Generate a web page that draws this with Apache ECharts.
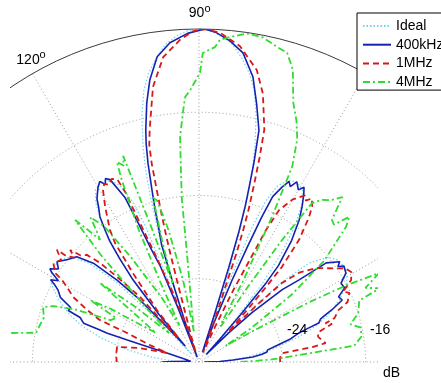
<!DOCTYPE html>
<html>
<head>
<meta charset="utf-8">
<script src="https://cdn.jsdelivr.net/npm/echarts@6/dist/echarts.min.js"></script>
<style>
html, body { margin: 0; padding: 0; background: #fff; }
#chart { width: 441px; height: 383px; }
</style>
</head>
<body>
<div id="chart"></div>
<script>
// Beam patterns, [angle in degrees, level in dB]
const seriesNames = ['Ideal', '400kHz', '1MHz', '4MHz'];

const ideal = [
  [0,-30.5],[2,-29.5],[6,-27.3],[10,-24.8],[14,-22.2],[17,-20.3],[20,-18.8],[24,-17.2],[28,-15.9],
  [32,-15.3],[36,-15.4],[39,-16],[42,-17.8],[44,-21],[45.5,-26],[47,-31],[49,-27],[51,-22.5],
  [53,-18.6],[55,-15.8],[57,-13.8],[59,-12.7],[61.5,-12.3],[64,-12.6],[66,-13.5],[67.5,-15.3],
  [68.5,-18],[69.5,-24],[70.5,-30.5],[71.5,-24],[72.5,-19.5],[73.5,-15.8],[74.5,-12.8],[75.5,-10.5],
  [77,-7.6],[78.5,-5.4],[80,-3.9],[82,-2.5],[84,-1.3],[86,-0.6],[88,-0.15],[90,0],
  [92,-0.15],[94,-0.6],[96,-1.3],[98,-2.5],[100,-3.9],[101.5,-5.4],[103,-7.6],[104.5,-10.5],
  [105.5,-12.8],[106.5,-15.8],[107.5,-19.5],[108.5,-24],[109.5,-30.5],[110.5,-24],[111.5,-18],
  [112.5,-15.3],[114,-13.5],[116,-12.6],[118.5,-12.3],[121,-12.7],[123,-13.8],[125,-15.8],
  [127,-18.6],[129,-22.5],[131,-27],[133,-31],[134.5,-26],[136,-21],[138,-17.8],[141,-16],
  [144,-15.4],[148,-15.3],[152,-15.9],[156,-17.2],[160,-18.8],[163,-20.3],[166,-22.2],
  [170,-24.8],[174,-27.3],[178,-29.5],[180,-30.5]
];

const f400k = [
  [0,-31.5],[1.5,-30],[3.4,-28.7],[5.3,-26.8],[7,-25.9],[8.4,-25.4],[10,-25.3],[12,-24.3],[14,-23],
  [16.2,-22],[17.2,-21],[18,-19.9],[19.5,-19.6],[20.5,-19.0],[21.4,-18.3],[23.4,-17.0],[25,-17.2],
  [27,-16.3],[29,-16.4],[31.2,-15.5],[33.5,-15.3],[34.5,-15.8],[35.5,-15.4],[37.9,-16.5],[39.4,-19.6],
  [41,-21.4],[43,-25],[44.5,-28],[46,-31],[47.7,-29.1],[48.7,-25.8],[49.7,-22],[50.5,-20],
  [52.7,-17.3],[54.8,-15.3],[56.4,-14.1],[58,-13],[59,-12.4],[60,-12.9],[61.5,-12.3],[62.5,-13.0],
  [63.5,-12.6],[64.6,-13.4],[66,-14.6],[66.6,-16.8],[67.2,-20],[68,-23.5],[69,-27.7],[70.6,-31],
  [72,-27],[72.5,-22.5],[73,-18.8],[73.5,-16.3],[74,-14.5],[74.6,-12.1],[75.5,-9.0],[77.4,-6.6],
  [79.3,-4.1],[81.9,-2.0],[84.5,-1.0],[87,-0.3],[89,0],[92,-0.4],[95.2,-1.2],[97.8,-2.4],
  [99.9,-4.5],[101.4,-6.6],[102.9,-9.1],[103.6,-10.4],[104.4,-12.3],[105.3,-14.9],[106.1,-16.8],
  [106.8,-18.7],[107.7,-20.2],[108.4,-24.7],[109.5,-28.5],[110.5,-31.5],[111.2,-26.5],[112,-22],
  [112.9,-20.3],[113.6,-17.6],[114.2,-14.7],[116,-12.5],[117,-12.2],[117.8,-12.7],[118.8,-12.2],
  [120,-12.6],[121.1,-13.1],[122,-13.5],[123,-14.3],[124.3,-15.1],[125.5,-16.5],[126.4,-17.5],
  [127.5,-19.5],[128.8,-21.9],[130,-26],[131,-30],[132.4,-27.5],[133.6,-23.7],[135,-20.9],
  [136.9,-18.1],[139.3,-16.5],[142,-16.0],[144.8,-15.3],[146.5,-15.8],[148,-15.1],[148.8,-15.5],
  [150,-16.4],[151,-15.7],[151.9,-16.3],[153,-16.8],[155,-17.3],[157,-18.6],[158.5,-18.5],
  [159.5,-19.8],[161.4,-20.3],[162.1,-22],[162.6,-22.7],[163,-24.8],[163.5,-27],[164.5,-28.8],
  [170,-30.8],[176,-31.2],[179,-29.5],[180,-28.4]
];

const f1M = [
  [0,-24.2],[3,-24.2],[6,-24.0],[7.5,-21],[8.5,-19.7],[10,-20.0],[12,-20.3],[14,-20.2],[16,-18.7],
  [17,-19.3],[18,-18.3],[20.4,-17.7],[22,-16.6],[24.7,-16.1],[26,-16.6],[27,-16.1],[28.3,-15.4],
  [30.5,-15.0],[32.6,-15.3],[35,-16.3],[38.8,-17.6],[41.7,-19.1],[43.6,-21],[44.5,-24],[45.5,-28],
  [46.5,-27],[47.5,-24.5],[48.2,-22.4],[48.9,-19.9],[50.7,-16.8],[52.8,-14.5],[54,-13.5],[55.4,-12.9],
  [56.5,-13.4],[57.5,-13.0],[59,-13.6],[60.1,-14],[62.2,-15.5],[63.1,-17.8],[63.5,-20.7],[64.5,-24.4],
  [65.5,-28.3],[67,-31],[69.5,-28],[70.5,-25],[71,-21],[71.5,-18.5],[72,-16.5],[72.8,-14],[73.5,-11.5],
  [74.3,-8.8],[76.6,-5.5],[78.8,-3.4],[82.6,-1.4],[86.3,-0.3],[89,0],[91,-0.2],[93.4,-1.0],[96.7,-2.5],
  [99.5,-5.2],[100.9,-7.6],[102,-9.2],[102.9,-10.6],[103.4,-12.4],[103.8,-15],[104.2,-17.3],[104.5,-19],
  [104.8,-21],[105.2,-24.5],[107,-29.8],[108.3,-31],[109,-28.4],[110.6,-24.9],[112.3,-20.4],[113,-17.5],
  [113.5,-14.1],[114.1,-12.8],[115.5,-12.5],[117,-12.9],[118,-12.6],[119.2,-13.1],[121.2,-14.6],
  [124,-16.7],[125.2,-18],[126.6,-21.3],[129,-25.6],[130.5,-29],[131.9,-28],[132.2,-23.5],[134,-20.5],
  [135,-18.5],[136.3,-17.1],[138,-16.7],[139,-15.6],[140,-16.4],[141.4,-15.7],[141.7,-14.6],[143.5,-15.5],
  [145.9,-15.1],[148.3,-15.8],[149,-16.6],[150.4,-17.4],[152.7,-18.4],[155.1,-20.2],[157,-21.6],
  [157.4,-22.8],[158,-24.5],[161,-27],[164,-28.8],[167,-26],[169.6,-24],[175,-24],[180,-24.1]
];

const f4M = [
  [0,-28],[2,-25],[4,-22.3],[6,-17],[8.9,-16.2],[12,-16.1],[14,-17],[17,-16.0],[21,-15.5],[22.2,-13.2],
  [24,-14.5],[26.3,-12.7],[27.5,-16],[28.5,-20],[30,-26.4],[31.5,-29],[33,-26],[36,-21],[39,-16.5],
  [42.6,-12.8],[44,-11.9],[45.5,-13.5],[46.9,-13.3],[48,-12.2],[49,-11],[51,-12],[53,-12.5],[54.6,-13.3],
  [55.8,-18],[57,-23.5],[58.5,-28],[60,-27.7],[61.5,-23],[63.3,-16.4],[64.5,-11.2],[66.2,-8.6],[68,-7],
  [70,-5.5],[72.2,-2.5],[74.1,-1.1],[76.1,-0.8],[78.9,-0.2],[81.7,-0.1],[85,-0.7],[86.3,-1.0],[87.1,-1.7],
  [89.3,-2.3],[89.8,-4.2],[91.9,-5.9],[93,-6.5],[93.7,-8],[94.8,-10.3],[95.5,-14],[96,-16.3],[96.3,-21.2],
  [97,-25],[98,-27.3],[99.5,-29],[101,-24],[103,-19],[104.5,-16],[105.6,-15.6],[107,-20],[108.5,-24],
  [109.5,-18],[110.2,-10.9],[111,-11.8],[112.3,-11.2],[113,-13],[114.5,-18],[116,-24],[118,-28],[120,-25],
  [123,-20],[125,-16],[126.9,-14.6],[128,-16],[129,-16.9],[130,-15.5],[131.1,-13.9],[132.5,-18],[134,-24],
  [136,-28],[139,-24],[141.4,-19.8],[143,-24],[146,-27],[149,-22],[150.4,-20],[152,-23],[154.7,-22.6],
  [157,-19],[159,-17],[160.6,-16.1],[164,-16.5],[167,-16.3],[169.8,-16.1],[171.3,-13.6],[174,-13],[180,-13]
];

const angleTicks = [0, 30, 60, 90, 120, 150, 180];
const ringLabels = ['-24', '-16'];
const unitLabel = 'dB';

const FONT = '"Liberation Sans", Arial, Helvetica, sans-serif';
const CX = 199, CY = 362, R = 333;

const chart = echarts.init(document.getElementById('chart'), null, { renderer: 'canvas' });

function toPolar(rows) {
  // polar line data is [radius, angle]
  return rows.map(p => [p[1], p[0]]);
}

const styles = [
  { color: '#6fd3ee', width: 1.2, type: [1.5, 2] },
  { color: '#1522b0', width: 1.6, type: 'solid' },
  { color: '#d81818', width: 1.8, type: [6, 4] },
  { color: '#2fdc2f', width: 1.8, type: [7, 3, 2, 3] }
];
const datasets = [ideal, f400k, f1M, f4M];

const series = datasets.map((d, i) => ({
  name: seriesNames[i],
  type: 'line',
  coordinateSystem: 'polar',
  data: toPolar(d),
  symbol: 'none',
  smooth: false,
  clip: false,
  z: 2 + i,
  lineStyle: { color: styles[i].color, width: styles[i].width, type: styles[i].type },
  itemStyle: { color: styles[i].color }
}));

const gridDot = { color: '#9a9a9a', width: 1, type: [1, 2.5] };

chart.setOption({
  animation: false,
  backgroundColor: '#fff',
  polar: { center: [CX, CY], radius: R },
  angleAxis: {
    type: 'value',
    min: angleTicks[0],
    max: angleTicks[angleTicks.length - 1],
    interval: 30,
    startAngle: 0,
    endAngle: 180,
    clockwise: false,
    axisLine: { show: true, lineStyle: { color: '#3a3a3a', width: 1 } },
    axisTick: { show: false },
    axisLabel: { show: false },
    splitLine: { show: true, lineStyle: gridDot }
  },
  radiusAxis: {
    type: 'value',
    min: -32,
    max: 0,
    interval: 8,
    axisLine: { show: false },
    axisTick: { show: false },
    axisLabel: { show: false },
    splitLine: {
      show: true,
      lineStyle: {
        color: ['rgba(0,0,0,0)', '#9a9a9a', '#9a9a9a', '#9a9a9a', 'rgba(0,0,0,0)'],
        width: 1,
        type: [1, 2.5]
      }
    }
  },
  legend: {
    data: seriesNames,
    orient: 'vertical',
    left: 357,
    top: 13,
    itemWidth: 28,
    itemHeight: 14,
    itemGap: 4.7,
    padding: [6, 10, 1, 5],
    borderColor: '#000',
    borderWidth: 1,
    backgroundColor: '#fff',
    z: 300,
    itemStyle: { color: 'rgba(0,0,0,0)', borderWidth: 0, opacity: 0 },
    textStyle: { fontFamily: FONT, fontSize: 14, color: '#000' }
  },
  series: series,
  graphic: [
    // plot window edges
    { type: 'rect', shape: { x: 0, y: 0, width: 10, height: 383 }, style: { fill: '#fff' }, z: 100 },
    { type: 'rect', shape: { x: 378, y: 0, width: 63, height: 383 }, style: { fill: '#fff' }, z: 100 },
    // angle labels
    { type: 'text', x: 196.5, y: 13.3, z: 200, style: { text: String(angleTicks[3]), font: '14px ' + FONT, fill: '#000', align: 'center', verticalAlign: 'middle' } },
    { type: 'text', x: 207.5, y: 8.5, z: 200, style: { text: 'o', font: '11px ' + FONT, fill: '#000', align: 'center', verticalAlign: 'middle' } },
    { type: 'text', x: 28, y: 60, z: 200, style: { text: String(angleTicks[4]), font: '14px ' + FONT, fill: '#000', align: 'center', verticalAlign: 'middle' } },
    { type: 'text', x: 42.5, y: 55, z: 200, style: { text: 'o', font: '11px ' + FONT, fill: '#000', align: 'center', verticalAlign: 'middle' } },
    // ring labels
    { type: 'text', x: 287, y: 330, z: 200, style: { text: ringLabels[0], font: '14px ' + FONT, fill: '#000', align: 'left', verticalAlign: 'middle' } },
    { type: 'text', x: 370, y: 330, z: 200, style: { text: ringLabels[1], font: '14px ' + FONT, fill: '#000', align: 'left', verticalAlign: 'middle' } },
    { type: 'text', x: 383, y: 373, z: 200, style: { text: unitLabel, font: '14px ' + FONT, fill: '#000', align: 'left', verticalAlign: 'middle' } }
  ]
});
</script>
</body>
</html>
